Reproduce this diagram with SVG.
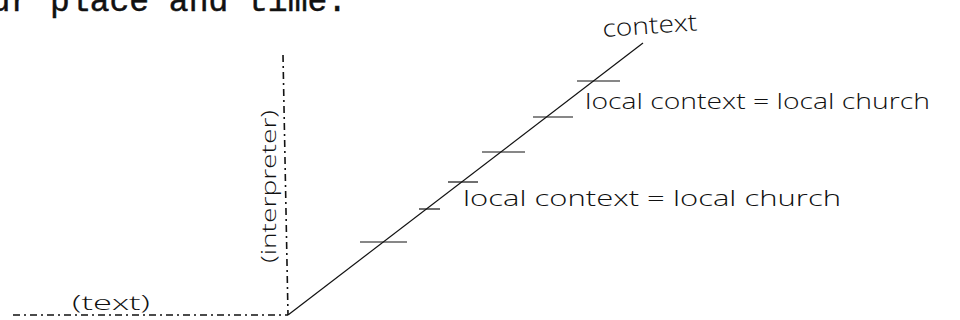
<svg xmlns="http://www.w3.org/2000/svg" width="960" height="320" viewBox="0 0 960 320">
<style>
.type{font-family:"Liberation Mono","Courier New",monospace;font-size:33px;fill:#111;stroke:#111;stroke-width:0.5}
.hand{font-family:"Open Sans","Liberation Sans","DejaVu Sans",sans-serif;font-weight:300;fill:#111}
.axis{stroke:#111;stroke-width:1.2;fill:none}
.dash{stroke:#111;stroke-width:1.6;fill:none;stroke-dasharray:7 4 2 4}
.tick{stroke:#111;stroke-width:1.2;fill:none}
</style>
<rect width="960" height="320" fill="#fff"/>
<g id="heading">
<text class="type" x="-9.4" y="11">ur place and time.</text>
</g>
<g id="connectors">
<line class="dash" x1="13" y1="315" x2="288" y2="315"/>
<line class="dash" x1="283" y1="55" x2="288" y2="315"/>
<line class="axis" x1="288" y1="315" x2="643" y2="43"/>
<line class="tick" x1="577" y1="81" x2="620" y2="81"/>
<line class="tick" x1="533" y1="117" x2="573" y2="117"/>
<line class="tick" x1="482" y1="152" x2="525" y2="152"/>
<line class="tick" x1="448" y1="182" x2="478" y2="182"/>
<line class="tick" x1="419" y1="209" x2="440" y2="209"/>
<line class="tick" x1="360" y1="242" x2="407" y2="242"/>
</g>
<g id="text-node">
<text class="hand" x="72" y="310" font-size="20" textLength="78" lengthAdjust="spacingAndGlyphs">(text)</text>
</g>
<g id="interpreter-node">
<text class="hand" transform="translate(276,263) rotate(-90)" x="0" y="0" font-size="20" textLength="153" lengthAdjust="spacingAndGlyphs">(interpreter)</text>
</g>
<g id="context-node">
<text class="hand" transform="rotate(-4 603 37)" x="603" y="37" font-size="24" textLength="95" lengthAdjust="spacingAndGlyphs">context</text>
</g>
<g id="local-upper">
<text class="hand" x="585" y="109" font-size="22" textLength="345" lengthAdjust="spacingAndGlyphs">local context = local church</text>
</g>
<g id="local-lower">
<text class="hand" x="463" y="206" font-size="22" textLength="378" lengthAdjust="spacingAndGlyphs">local context = local church</text>
</g>
</svg>
